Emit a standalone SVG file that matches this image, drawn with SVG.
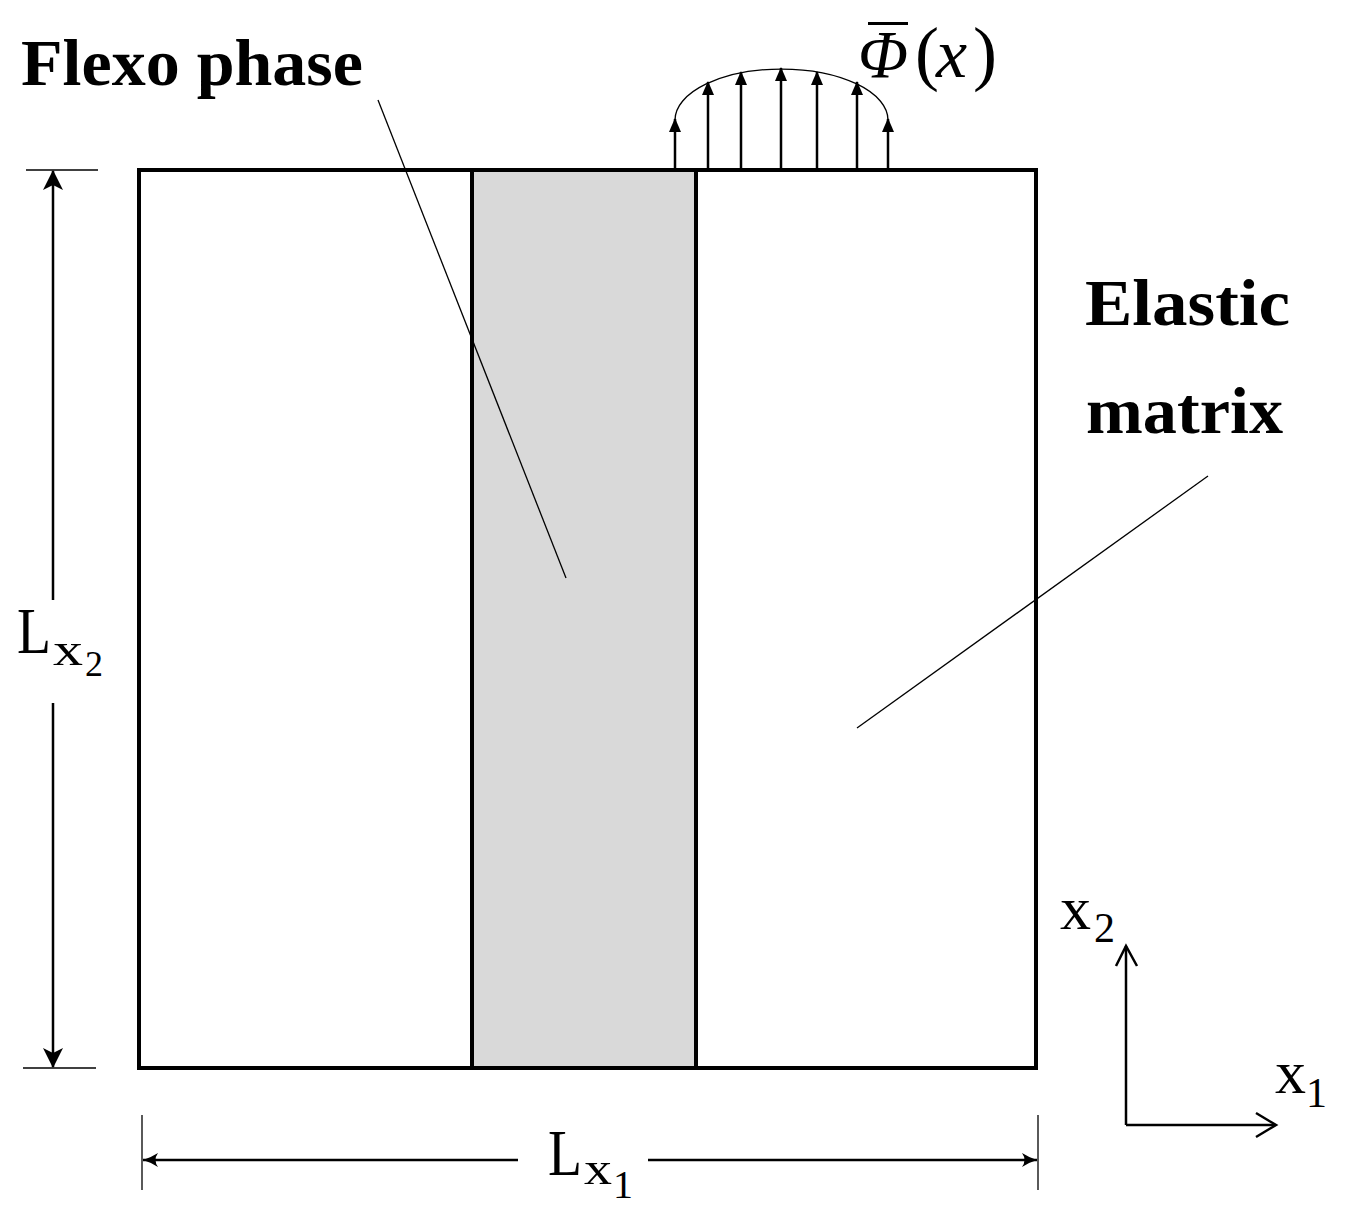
<svg xmlns="http://www.w3.org/2000/svg" width="1348" height="1217" viewBox="0 0 1348 1217">
<style>
.lbl{font-family:"Liberation Serif","DejaVu Serif",serif;fill:#000}
.bold{font-weight:bold}
.thin{stroke:#000;stroke-width:1.3;fill:none}
.dim{stroke:#000;stroke-width:2.5;fill:none}
.ld{stroke:#000;stroke-width:2.5;fill:none}
</style>
<defs>
<marker id="stealth" viewBox="0 0 20 20" refX="19" refY="10" markerWidth="20" markerHeight="20" markerUnits="userSpaceOnUse" orient="auto">
<path d="M0,0 L20,10 L0,20 L5,10 Z" fill="#000"/>
</marker>
<marker id="load" viewBox="0 0 14 12" refX="13" refY="6" markerWidth="14" markerHeight="12" markerUnits="userSpaceOnUse" orient="auto">
<path d="M0,0 L14,6 L0,12 Z" fill="#000"/>
</marker>
<marker id="barb" viewBox="0 0 16 16" refX="15" refY="8" markerWidth="16" markerHeight="16" markerUnits="userSpaceOnUse" orient="auto">
<path d="M0,1 Q8,6 15,8 Q8,10 0,15 Q5,8 0,1 Z" fill="#000"/>
</marker>
</defs>

<g id="domain">
<rect x="472" y="170" width="224" height="898" fill="#d9d9d9"/>
<rect x="139" y="170" width="897" height="898" fill="none" stroke="#000" stroke-width="4"/>
<line x1="472" y1="170" x2="472" y2="1068" stroke="#000" stroke-width="4"/>
<line x1="696" y1="170" x2="696" y2="1068" stroke="#000" stroke-width="4"/>
</g>

<g id="load-distribution">
<path d="M675,120 A106.5,51 0 0 1 888,120" class="thin" stroke-width="2"/>
<line x1="675" y1="170" x2="675" y2="119" class="ld" marker-end="url(#load)"/>
<line x1="708" y1="170" x2="708" y2="82" class="ld" marker-end="url(#load)"/>
<line x1="741" y1="170" x2="741" y2="72" class="ld" marker-end="url(#load)"/>
<line x1="781" y1="170" x2="781" y2="68" class="ld" marker-end="url(#load)"/>
<line x1="817" y1="170" x2="817" y2="72" class="ld" marker-end="url(#load)"/>
<line x1="857" y1="170" x2="857" y2="82" class="ld" marker-end="url(#load)"/>
<line x1="888" y1="170" x2="888" y2="119" class="ld" marker-end="url(#load)"/>
<text class="lbl" x="858" y="77" font-size="68" font-style="italic" textLength="50" lengthAdjust="spacingAndGlyphs">Φ</text>
<line x1="868" y1="23.5" x2="908" y2="23.5" stroke="#000" stroke-width="3"/>
<text class="lbl" x="915" y="77" font-size="72">(</text>
<text class="lbl" x="936" y="77" font-size="70" font-style="italic">x</text>
<text class="lbl" x="973" y="77" font-size="72">)</text>
</g>

<g id="flexo-label">
<text class="lbl bold" x="21" y="85" font-size="66" textLength="342" lengthAdjust="spacingAndGlyphs">Flexo phase</text>
</g>

<g id="elastic-label">
<text class="lbl bold" x="1085" y="325" font-size="66" textLength="205" lengthAdjust="spacingAndGlyphs">Elastic</text>
<text class="lbl bold" x="1086" y="433" font-size="66" textLength="197" lengthAdjust="spacingAndGlyphs">matrix</text>
</g>

<g id="connectors">
<line x1="378" y1="100" x2="566" y2="578" class="thin"/>
<line x1="1208" y1="476" x2="857" y2="728" class="thin"/>
<line x1="26" y1="170" x2="98" y2="170" class="thin" stroke-width="1.5"/>
<line x1="23" y1="1068" x2="96" y2="1068" class="thin" stroke-width="1.5"/>
<line x1="53" y1="600" x2="53" y2="171" class="dim" stroke-width="3" marker-end="url(#stealth)"/>
<line x1="53" y1="703" x2="53" y2="1067" class="dim" stroke-width="3" marker-end="url(#stealth)"/>
<line x1="142" y1="1115" x2="142" y2="1190" class="thin" stroke-width="1.3"/>
<line x1="1038" y1="1115" x2="1038" y2="1190" class="thin" stroke-width="1.3"/>
<line x1="518" y1="1160" x2="143" y2="1160" class="dim" marker-end="url(#barb)"/>
<line x1="648" y1="1160" x2="1037" y2="1160" class="dim" marker-end="url(#barb)"/>
<polyline points="1126,1125 1126,946" class="dim"/>
<polyline points="1116,966 1126,946 1137,966" class="dim"/>
<polyline points="1126,1125 1275,1125" class="dim"/>
<polyline points="1256,1113 1276,1125 1256,1137" class="dim"/>
</g>

<g id="lx2-label">
<text class="lbl" x="17" y="653" font-size="66" textLength="34" lengthAdjust="spacingAndGlyphs">L</text>
<text class="lbl" x="53" y="665" font-size="46" textLength="30" lengthAdjust="spacingAndGlyphs">x</text>
<text class="lbl" x="85" y="676" font-size="36">2</text>
</g>

<g id="lx1-label">
<text class="lbl" x="548" y="1175" font-size="66" textLength="34" lengthAdjust="spacingAndGlyphs">L</text>
<text class="lbl" x="584" y="1184" font-size="46" textLength="28" lengthAdjust="spacingAndGlyphs">x</text>
<text class="lbl" x="613" y="1198" font-size="40">1</text>
</g>

<g id="axis-labels">
<text class="lbl" x="1060" y="929" font-size="62">x</text>
<text class="lbl" x="1094" y="942" font-size="42">2</text>
<text class="lbl" x="1275" y="1093" font-size="62">x</text>
<text class="lbl" x="1306" y="1107" font-size="42">1</text>
</g>
</svg>
